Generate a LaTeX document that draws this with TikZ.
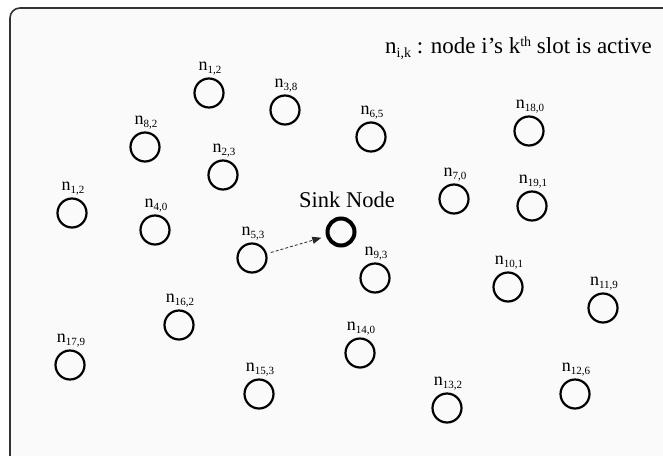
\documentclass[tikz,border=0pt]{standalone}
\usepackage{fontspec}
\setmainfont{Liberation Serif}
\usetikzlibrary{arrows.meta}
\newcommand\nlab[1]{n\raisebox{-3.5pt}{\fontsize{11}{12}\selectfont #1}}
\tikzset{
  sensor/.style={draw=black, line width=2.2pt, ellipse-ish},
  ellipse-ish/.style={circle, minimum size=29pt, inner sep=0pt},
  sinkc/.style={draw=black, line width=4pt, circle, minimum size=27pt, inner sep=0pt},
  lbl/.style={font=\fontsize{18}{20}\selectfont, anchor=base, inner sep=0pt},
}
\begin{document}
\begin{tikzpicture}[x=1pt,y=-1pt]
\useasboundingbox (0,0) rectangle (663,455);
\clip (0,0) rectangle (663,455);
\draw[line width=1.6pt, draw=black!80, fill={rgb,255:red,250;green,250;blue,250}, rounded corners=10pt] (10,8) rectangle (690,480);
% title
\node[anchor=base west, inner sep=0pt, font=\fontsize{23}{26}\selectfont] (title) at (385,53)
  {n\raisebox{-4pt}{\fontsize{14}{16}\selectfont i,k} : node i’s k\raisebox{7pt}{\fontsize{14}{16}\selectfont th} slot is active};
% sensors
\foreach \nm/\x/\y/\lab in {
  a/209/93/{1,2}, b/285/110/{3,8}, c/145/147/{8,2}, d/223/175/{2,3},
  e/72/213/{1,2}, f/155/230/{4,0}, g/371/137/{6,5}, h/529/131/{18,0},
  i/454/199/{7,0}, j/532/206/{19,1}, k/252/258/{5,3}, l/179/325/{16,2},
  m/70/365/{17,9}, o/259/394/{15,3}, p/375/278/{9,3}, q/508/287/{10,1},
  r/603/308/{11,9}, s/360/353/{14,0}, t/447/408/{13,2}, u/575/394/{12,6}}
{
  \node[sensor] (c\nm) at (\x,\y) {};
  \node[lbl] (l\nm) at ([yshift=23pt,xshift=1pt]c\nm.center) {\nlab{\lab}};
}
% sink
\node[sinkc] (sink) at (341,232) {};
\node[anchor=base, inner sep=0pt, font=\fontsize{22.5}{25}\selectfont] (sinklbl) at (347,207) {Sink Node};
\draw[densely dashed, line width=0.8pt, black!85, -{Triangle[length=9pt,width=7pt]}, shorten <=4pt, shorten >=5pt] (ck) -- (sink);
\end{tikzpicture}
\end{document}
